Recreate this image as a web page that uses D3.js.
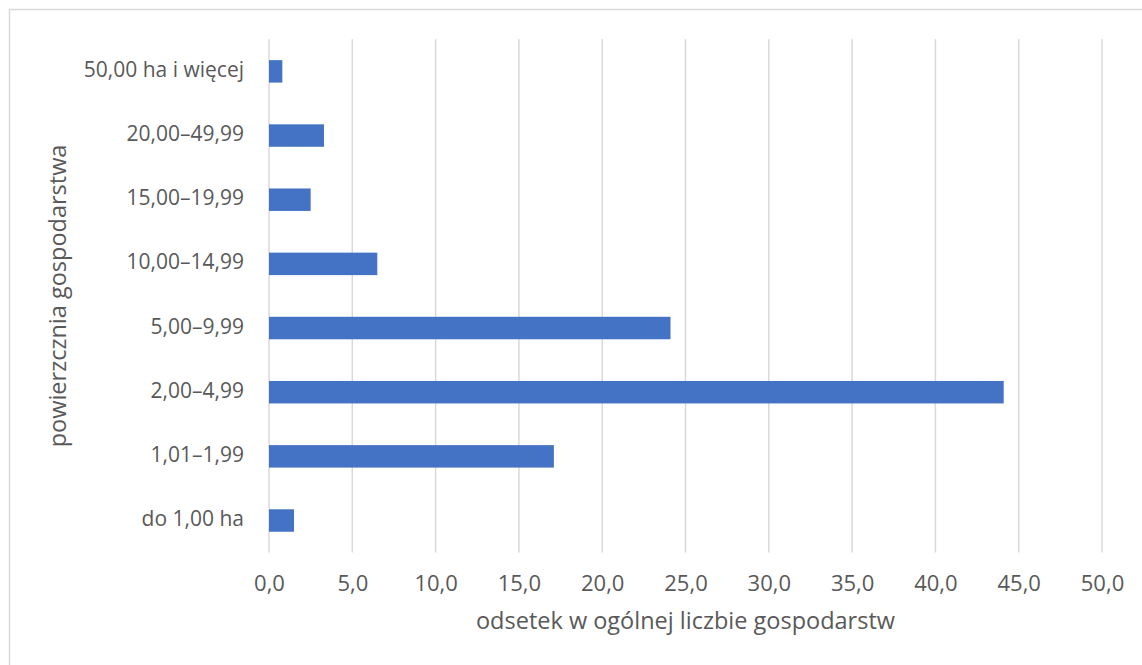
<!DOCTYPE html>
<html>
<head>
<meta charset="utf-8">
<script src="https://cdn.jsdelivr.net/npm/d3@7"></script>
<style>
  html, body { margin: 0; padding: 0; background: #fff; }
  svg { display: block; }
  text { font-family: "Open Sans", "Noto Sans", sans-serif; fill: #595959; }
</style>
</head>
<body>
<svg id="chart" width="1142" height="665"></svg>
<script>
const categories = ["do 1,00 ha", "1,01–1,99", "2,00–4,99", "5,00–9,99", "10,00–14,99", "15,00–19,99", "20,00–49,99", "50,00 ha i więcej"];
const values = [1.5, 17.1, 44.1, 24.1, 6.5, 2.5, 3.3, 0.8];
const xTicks = [0, 5, 10, 15, 20, 25, 30, 35, 40, 45, 50];
const xTitle = "odsetek w ogólnej liczbie gospodarstw";
const yTitle = "powierzcznia gospodarstwa";

const svg = d3.select("#chart");
const plot = { left: 269, right: 1102, top: 39.3, bottom: 552.6 };

svg.append("rect").attr("x", 9.5).attr("y", 9.5).attr("width", 1160).attr("height", 700)
  .attr("fill", "#fff").attr("stroke", "#d9d9d9").attr("stroke-width", 1.5);

const x = d3.scaleLinear().domain([0, 50]).range([plot.left, plot.right]);
const y = d3.scaleBand().domain(categories.slice().reverse()).range([plot.top, plot.bottom]).paddingInner(0.65).paddingOuter(0.325);

// gridlines
svg.append("g").selectAll("line").data(xTicks).join("line")
  .attr("x1", d => x(d)).attr("x2", d => x(d))
  .attr("y1", plot.top).attr("y2", plot.bottom)
  .attr("stroke", "#d9d9d9").attr("stroke-width", 1.5);

// bars
svg.append("g").selectAll("rect").data(categories.map((c, i) => ({ c, v: values[i] }))).join("rect")
  .attr("x", x(0)).attr("y", d => y(d.c))
  .attr("width", d => x(d.v) - x(0)).attr("height", y.bandwidth())
  .attr("fill", "#4472c4");

// x axis
const xAxis = d3.axisBottom(x).tickValues(xTicks).tickSize(0).tickPadding(0)
  .tickFormat(d => d3.format(".1f")(d).replace(".", ","));
const gx = svg.append("g").attr("transform", `translate(0,${plot.bottom})`).call(xAxis);
gx.select(".domain").remove();
gx.selectAll("text").attr("y", 33).attr("dy", null).attr("dominant-baseline", "middle")
  .style("font-size", "22px").style("font-family", null).attr("fill", "#595959");

// y axis
const yAxis = d3.axisLeft(y).tickSize(0).tickPadding(25);
const gy = svg.append("g").attr("transform", `translate(${plot.left},0)`).call(yAxis);
gy.select(".domain").remove();
gy.selectAll("text").attr("dy", null).attr("dominant-baseline", "middle")
  .style("font-size", "21px").attr("fill", "#595959");
gx.attr("font-family", null); gy.attr("font-family", null);

// titles
svg.append("text").attr("x", (plot.left + plot.right) / 2).attr("y", 623)
  .attr("text-anchor", "middle").attr("dominant-baseline", "middle")
  .style("font-size", "23.5px").text(xTitle);
svg.append("text").attr("transform", `translate(60,${(plot.top + plot.bottom) / 2}) rotate(-90)`)
  .attr("text-anchor", "middle").attr("dominant-baseline", "middle")
  .style("font-size", "23.5px").text(yTitle);
</script>
</body>
</html>
